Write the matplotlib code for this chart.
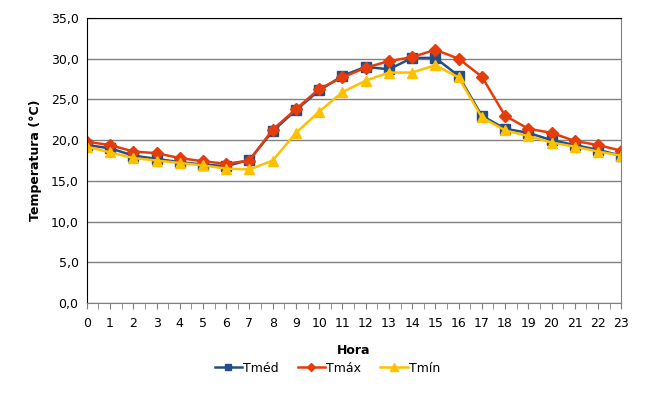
import numpy as np
import matplotlib.pyplot as plt
from matplotlib.ticker import MultipleLocator, FuncFormatter

hours = list(range(24))
t_med = [19.4, 19.0, 18.1, 17.7, 17.3, 17.0, 16.8, 17.6, 21.1, 23.7, 26.1, 27.9,
         29.0, 28.7, 30.1, 30.1, 27.9, 23.0, 21.4, 20.9, 20.0, 19.4, 18.8, 18.1]
t_max = [19.8, 19.4, 18.6, 18.4, 17.8, 17.4, 17.1, 17.5, 21.3, 23.8, 26.3, 27.7,
         28.9, 29.7, 30.2, 31.1, 30.0, 27.8, 23.0, 21.4, 20.9, 19.9, 19.4, 18.7]
t_min = [19.2, 18.5, 17.8, 17.5, 17.2, 16.9, 16.5, 16.4, 17.5, 20.9, 23.5, 25.9,
         27.3, 28.3, 28.3, 29.2, 27.7, 22.8, 21.2, 20.5, 19.7, 19.2, 18.6, 18.1]

plt.rcParams['font.family'] = 'DejaVu Sans'

fig = plt.figure(figsize=(6.68, 4.0), dpi=100)
ax = fig.add_axes([0.130, 0.2425, 0.800, 0.7125])

ax.plot(hours, t_med, color='#254E86', lw=1.8, marker='s', ms=6.5, label='Tméd')
ax.plot(hours, t_max, color='#E63C0C', lw=1.8, marker='D', ms=6, label='Tmáx')
ax.plot(hours, t_min, color='#FFC000', lw=1.8, marker='^', ms=7, label='Tmín')

ax.set_xlim(0, 23)
ax.set_ylim(0, 35)
ax.yaxis.set_major_locator(MultipleLocator(5))
ax.yaxis.set_major_formatter(FuncFormatter(lambda v, p: f'{v:.1f}'.replace('.', ',')))
ax.xaxis.set_major_locator(MultipleLocator(1))
ax.xaxis.set_minor_locator(MultipleLocator(0.5))
ax.grid(axis='y', color='#808080', lw=1)
ax.set_axisbelow(True)

ax.tick_params(axis='x', which='both', direction='out', length=4, color='#808080',
               labelsize=9, pad=6)
ax.tick_params(axis='y', length=0, labelsize=9, pad=6)

ax.spines['left'].set_color('black')
ax.spines['top'].set_color('black')
ax.spines['right'].set_color('#808080')
ax.spines['bottom'].set_color('#808080')

ax.set_ylabel('Temperatura (°C)', fontsize=9, fontweight='bold', labelpad=6)
ax.set_xlabel('Hora', fontsize=9, fontweight='bold', labelpad=10)

fig.legend(loc='center', bbox_to_anchor=(0.49, 0.08), ncol=3, frameon=False,
           fontsize=9, handlelength=2.2, handletextpad=0.1, columnspacing=1.5,
           markerscale=0.75)

fig.savefig('out.png', dpi=100)
